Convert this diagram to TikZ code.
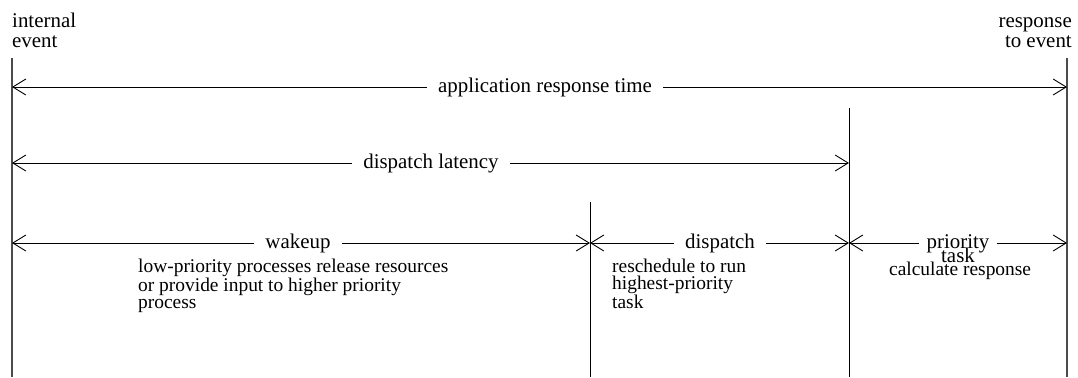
\documentclass[tikz,border=0pt]{standalone}
\usepackage{fontspec}
\setmainfont{Liberation Serif}
\usetikzlibrary{arrows.meta}
\begin{document}
\begin{tikzpicture}[x=1bp,y=-1bp,
  font=\fontsize{19.5}{17}\selectfont,
  lblfont/.style={font=\fontsize{21}{17}\selectfont},
  edgeline/.style={draw=black!70, line width=1.6bp},
  divline/.style={draw=black, line width=0.9bp},
  dimline/.style={draw=black, line width=0.9bp,
    {Straight Barb[length=13bp,width=16bp,line width=0.9bp]}-{Straight Barb[length=13bp,width=16bp,line width=0.9bp]}},
  dimlabel/.style={lblfont, fill=white, inner xsep=11bp, inner ysep=1bp},
  note/.style={align=left, anchor=base west, inner sep=0pt}]
\useasboundingbox (0,0) rectangle (1078,377);

% vertical lines
\coordinate (Ltop) at (12,58);  \coordinate (Lbot) at (12,377);
\coordinate (Rtop) at (1067,58); \coordinate (Rbot) at (1067,377);
\coordinate (Mtop) at (849,108); \coordinate (Mbot) at (849,377);
\coordinate (Wtop) at (590,202); \coordinate (Wbot) at (590,377);
\draw[edgeline] (Ltop) -- (Lbot);
\draw[edgeline] (Rtop) -- (Rbot);
\draw[divline] (Mtop) -- (Mbot);
\draw[divline] (Wtop) -- (Wbot);

% arrow end points
\coordinate (a1) at (12,87);  \coordinate (b1) at (1067,87);
\coordinate (a2) at (12,163); \coordinate (b2) at (849,163);
\coordinate (a3) at (12,243); \coordinate (b3) at (590,243);
\coordinate (c3) at (849,243); \coordinate (d3) at (1067,243);

\draw[dimline] (a1) -- (b1);
\draw[dimline] (a2) -- (b2);
\draw[dimline] (a3) -- (b3);
\draw[dimline] (b3) -- (c3);
\draw[dimline] (c3) -- (d3);

% labels on arrows
\node[dimlabel] (art) at (545,87) {application response time};
\node[dimlabel] (dlat) at (431,163) {dispatch latency};
\node[dimlabel] (wak) at (298,243) {wakeup};
\node[dimlabel] (dis) at (720,243) {dispatch};
\node[dimlabel, align=center, inner xsep=8bp, inner ysep=0pt] (pri) at (958,249) {priority\\[-6bp]task};

% end labels
\node[lblfont, align=left, anchor=base west, inner sep=0pt] (ie) at (12,47) {internal\\[3bp]event};
\node[lblfont, align=right, anchor=base east, inner sep=0pt] (re) at (1072,47) {response\\[3bp]to event};

% notes
\node[note] (n1) at (138,308) {low-priority processes release resources\\or provide input to higher priority\\process};
\node[note] (n2) at (612,308) {reschedule to run\\highest-priority\\task};
\node[note] (n3) at (889,275) {calculate response};
\end{tikzpicture}
\end{document}
